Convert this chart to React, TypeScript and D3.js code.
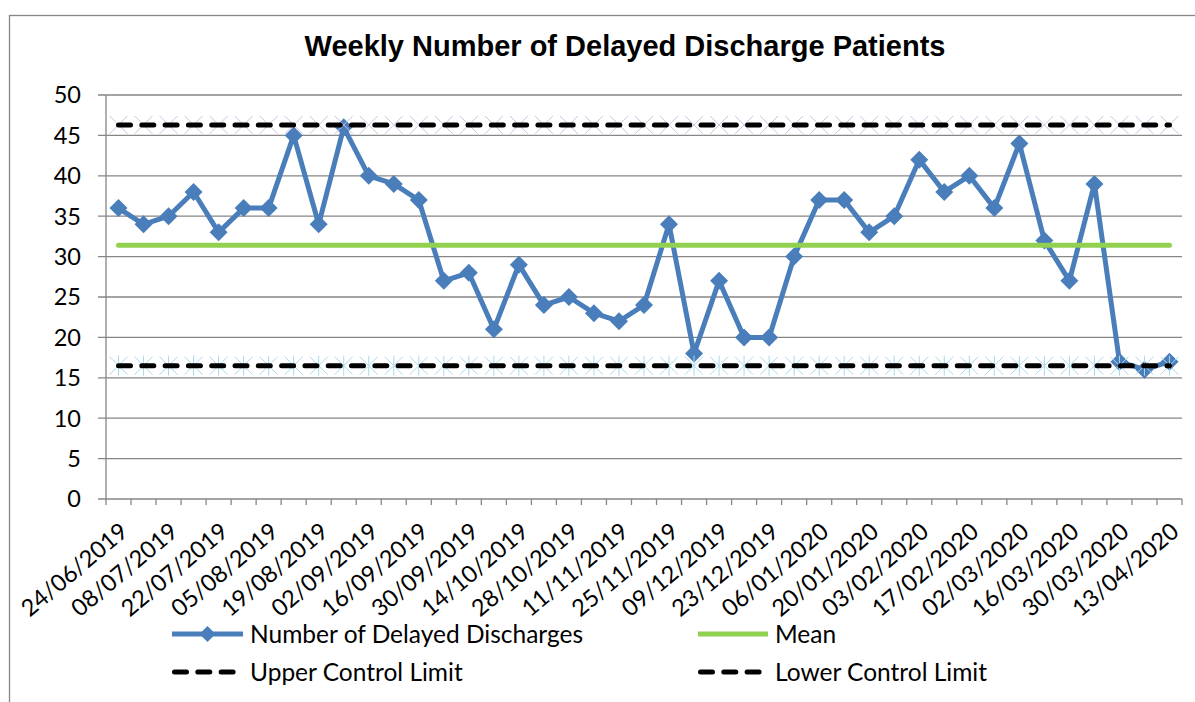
import React from 'react';
import * as d3 from 'd3';

const WEEKS = [
  '24/06/2019', '01/07/2019', '08/07/2019', '15/07/2019', '22/07/2019', '29/07/2019', '05/08/2019',
  '12/08/2019', '19/08/2019', '26/08/2019', '02/09/2019', '09/09/2019', '16/09/2019', '23/09/2019',
  '30/09/2019', '07/10/2019', '14/10/2019', '21/10/2019', '28/10/2019', '04/11/2019', '11/11/2019',
  '18/11/2019', '25/11/2019', '02/12/2019', '09/12/2019', '16/12/2019', '23/12/2019', '30/12/2019',
  '06/01/2020', '13/01/2020', '20/01/2020', '27/01/2020', '03/02/2020', '10/02/2020', '17/02/2020',
  '24/02/2020', '02/03/2020', '09/03/2020', '16/03/2020', '23/03/2020', '30/03/2020', '06/04/2020',
  '13/04/2020',
];
const DELAYED = [
  36, 34, 35, 38, 33, 36, 36, 45, 34, 46, 40, 39, 37, 27, 28, 21, 29, 24, 25, 23, 22, 24,
  34, 18, 27, 20, 20, 30, 37, 37, 33, 35, 42, 38, 40, 36, 44, 32, 27, 39, 17, 16, 17,
];
const MEAN = 31.4;
const UCL = 46.3;
const LCL = 16.5;
const Y_TICKS = [0, 5, 10, 15, 20, 25, 30, 35, 40, 45, 50];

const W = 1195;
const H = 702;
const LEFT = 106;
const RIGHT = 1182;
const TOP = 95;
const BOTTOM = 499;
const BLUE = '#4A7EBB';
const GREEN = '#92D050';
const GRID = '#868686';
const LABEL_FONT = 'Lato, "Open Sans", sans-serif';
const FS = 23.5;

const diamond = (cx: number, cy: number, r: number) =>
  `M${cx},${cy - r}L${cx + r},${cy}L${cx},${cy + r}L${cx - r},${cy}Z`;

export default function App() {
  const x = d3.scaleBand<number>().domain(d3.range(WEEKS.length)).range([LEFT, RIGHT]).padding(0);
  const cx = (i: number) => (x(i) as number) + x.bandwidth() / 2;
  const y = d3.scaleLinear().domain([0, 50]).range([BOTTOM, TOP]);
  const line = d3.line<number>().x((_, i) => cx(i)).y((d) => y(d));
  const flat = (v: number) => `M${cx(0)},${y(v)}L${cx(WEEKS.length - 1)},${y(v)}`;
  const dash = '12,11.3';
  const boundaries = d3.range(WEEKS.length + 1).map((i) => LEFT + i * x.bandwidth());

  return (
    <svg width={W} height={H} style={{ position: 'absolute', left: 0, top: 0, background: '#fff' }}>
      <rect x={9.5} y={15.5} width={W + 20} height={H + 20} fill="#fff" stroke={GRID} strokeWidth={1.3} />
      <text x={625} y={56} textAnchor="middle" fontFamily='"Liberation Sans", Arial, sans-serif'
        fontWeight="bold" fontSize={29} fill="#000">
        Weekly Number of Delayed Discharge Patients
      </text>

      {Y_TICKS.map((t) => (
        <g key={t}>
          <line x1={LEFT - 8} x2={RIGHT} y1={y(t)} y2={y(t)} stroke={GRID} strokeWidth={1.3} />
          <text x={81} y={y(t)} dy="0.36em" textAnchor="end" fontFamily={LABEL_FONT} fontSize={FS} fill="#000">
            {t}
          </text>
        </g>
      ))}
      <line x1={LEFT} x2={LEFT} y1={TOP} y2={BOTTOM} stroke={GRID} strokeWidth={1.3} />
      {boundaries.map((bx, i) => (
        <line key={i} x1={bx} x2={bx} y1={BOTTOM} y2={BOTTOM + 6} stroke={GRID} strokeWidth={1.3} />
      ))}
      {WEEKS.map((w, i) =>
        i % 2 === 0 ? (
          <text key={w} transform={`translate(${cx(i) + 11},${BOTTOM + 35}) rotate(-40)`} textAnchor="end"
            fontFamily={LABEL_FONT} fontSize={FS} fill="#000">
            {w}
          </text>
        ) : null
      )}

      <path d={line(DELAYED) as string} fill="none" stroke={BLUE} strokeWidth={5} strokeLinejoin="round" />
      {DELAYED.map((v, i) => (
        <path key={i} d={diamond(cx(i), y(v), 9)} fill={BLUE} />
      ))}

      <path d={flat(MEAN)} stroke={GREEN} strokeWidth={5} strokeLinecap="round" />

      {WEEKS.map((w, i) => (
        <path key={w} d={`M${cx(i) - 9},${y(UCL) - 9}L${cx(i) + 9},${y(UCL) + 9}M${cx(i) - 9},${y(UCL) + 9}L${cx(i) + 9},${y(UCL) - 9}`}
          stroke="#c9c3e3" strokeWidth={1} />
      ))}
      <path d={flat(UCL)} stroke="#000" strokeWidth={5} strokeLinecap="round" strokeDasharray={dash} />

      {WEEKS.map((w, i) => (
        <path key={w} d={`M${cx(i) - 9},${y(LCL) - 9}L${cx(i) + 9},${y(LCL) + 9}M${cx(i) - 9},${y(LCL) + 9}L${cx(i) + 9},${y(LCL) - 9}M${cx(i)},${y(LCL) - 10}L${cx(i)},${y(LCL) + 10}`}
          stroke="#a9d9ec" strokeWidth={1} />
      ))}
      <path d={flat(LCL)} stroke="#000" strokeWidth={5} strokeLinecap="round" strokeDasharray={dash} />

      <g fontFamily={LABEL_FONT} fontSize={24.5} fill="#000">
        <line x1={172} x2={243} y1={634} y2={634} stroke={BLUE} strokeWidth={5} />
        <path d={diamond(207.5, 634, 8)} fill={BLUE} />
        <text x={250} y={634} dy="0.36em">Number of Delayed Discharges</text>
        <line x1={698} x2={768} y1={634} y2={634} stroke={GREEN} strokeWidth={5} />
        <text x={775} y={634} dy="0.36em">Mean</text>
        <line x1={174.5} x2={236} y1={672} y2={672} stroke="#000" strokeWidth={5} strokeLinecap="round" strokeDasharray={dash} />
        <text x={250} y={672} dy="0.36em">Upper Control Limit</text>
        <line x1={700.5} x2={762} y1={672} y2={672} stroke="#000" strokeWidth={5} strokeLinecap="round" strokeDasharray={dash} />
        <text x={775} y={672} dy="0.36em">Lower Control Limit</text>
      </g>
    </svg>
  );
}
